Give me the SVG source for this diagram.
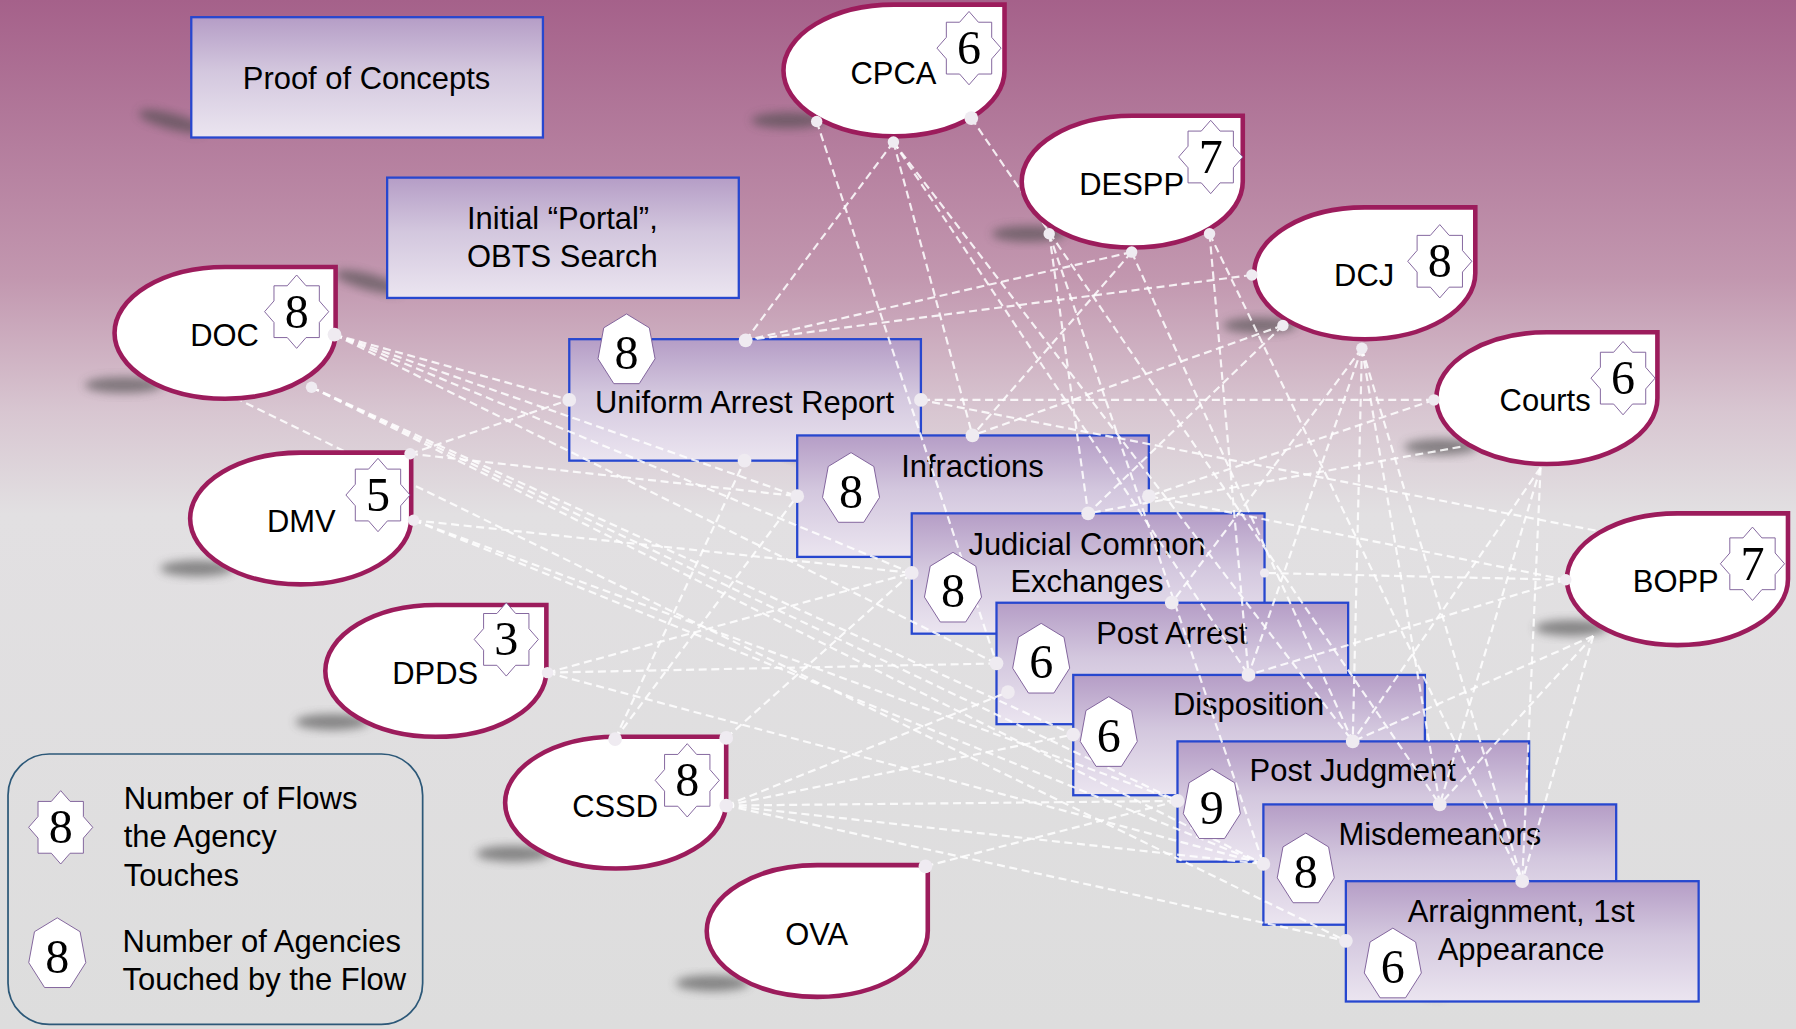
<svg xmlns="http://www.w3.org/2000/svg" xmlns:xlink="http://www.w3.org/1999/xlink" width="1796" height="1029" viewBox="0 0 1796 1029">
<defs>
<linearGradient id="bg" x1="0" y1="0" x2="0" y2="1">
<stop offset="0" stop-color="#a5618a"/>
<stop offset="0.27" stop-color="#c297af"/>
<stop offset="0.4" stop-color="#d8c6d1"/>
<stop offset="0.5" stop-color="#e2e0e2"/>
<stop offset="1" stop-color="#dddddd"/>
</linearGradient>
<linearGradient id="boxfill" x1="0" y1="0" x2="0" y2="1">
<stop offset="0" stop-color="#b59dc6"/>
<stop offset="0.45" stop-color="#d3c7de"/>
<stop offset="1" stop-color="#ebe5f0"/>
</linearGradient>
<filter id="blur" x="-50%" y="-50%" width="200%" height="200%"><feGaussianBlur stdDeviation="4"/></filter>
<path id="agency" d="M96.5,0 L193,0 L193,57.5 A96.5,57.5 0 0 1 96.5,115 A96.5,57.5 0 0 1 0,57.5 A96.5,57.5 0 0 1 96.5,0 Z"/>
<polygon id="star" points="28,0 19.8,9.4 19.8,22.6 8.2,22.6 0,32 -8.2,22.6 -19.8,22.6 -19.8,9.4 -28,0 -19.8,-9.4 -19.8,-22.6 -8.2,-22.6 0,-32 8.2,-22.6 19.8,-22.6 19.8,-9.4"/>
<polygon id="hept" points="0,-32 19.9,-19.9 24.9,7.1 11.1,28.8 -11.1,28.8 -24.9,7.1 -19.9,-19.9"/>
</defs>
<style>
.ag{fill:#ffffff;stroke:#9c1c5c;stroke-width:4}
.box{fill:url(#boxfill);stroke:#2747cf;stroke-width:2}
.sh{fill:#4a4a4a;opacity:0.6;filter:url(#blur)}
.badge{fill:#ffffff;stroke:#7a5a96;stroke-width:0.8}
.lbl{font-family:"Liberation Sans",Arial,sans-serif;font-size:27px;fill:#000;text-anchor:middle}
.lgt{font-family:"Liberation Sans",Arial,sans-serif;font-size:27px;fill:#000}
.num{font-family:"Liberation Serif","Times New Roman",serif;font-size:42px;fill:#000;text-anchor:middle}
.conn line{stroke:#ffffff;stroke-opacity:0.85;stroke-width:1.9;stroke-dasharray:7 4;fill:none}
.dot{fill:#efebf1}
</style>
<rect x="0" y="0" width="1796" height="1029" fill="url(#bg)"/>
<g transform="scale(1.14541,1.14588)">
<g id="shadows">
<ellipse class="sh" cx="150" cy="106" rx="30" ry="7" transform="rotate(15 150 106)"/>
<ellipse class="sh" cx="322" cy="246" rx="30" ry="7" transform="rotate(15 322 246)"/>
<ellipse class="sh" cx="686" cy="390" rx="28" ry="7" transform="rotate(20 686 390)"/>
<ellipse class="sh" cx="786" cy="470" rx="28" ry="7" transform="rotate(20 786 470)"/>
<ellipse class="sh" cx="860" cy="537" rx="28" ry="7" transform="rotate(20 860 537)"/>
<ellipse class="sh" cx="927" cy="616" rx="28" ry="7" transform="rotate(20 927 616)"/>
<ellipse class="sh" cx="1018" cy="678" rx="28" ry="7" transform="rotate(20 1018 678)"/>
<ellipse class="sh" cx="1093" cy="736" rx="28" ry="7" transform="rotate(20 1093 736)"/>
<ellipse class="sh" cx="1165" cy="790" rx="28" ry="7" transform="rotate(20 1165 790)"/>
<ellipse class="sh" cx="1235" cy="858" rx="28" ry="7" transform="rotate(20 1235 858)"/>
<ellipse class="sh" cx="688" cy="105" rx="32" ry="7"/>
<ellipse class="sh" cx="898" cy="204" rx="32" ry="7"/>
<ellipse class="sh" cx="1100" cy="284" rx="32" ry="7"/>
<ellipse class="sh" cx="1258" cy="390" rx="32" ry="7"/>
<ellipse class="sh" cx="1372" cy="548" rx="32" ry="7"/>
<ellipse class="sh" cx="108" cy="336" rx="34" ry="7"/>
<ellipse class="sh" cx="172" cy="496" rx="32" ry="7"/>
<ellipse class="sh" cx="290" cy="630" rx="32" ry="7"/>
<ellipse class="sh" cx="448" cy="745" rx="32" ry="7"/>
<ellipse class="sh" cx="622" cy="858" rx="32" ry="7"/>
</g>
<g id="proof-of-concepts">
<rect class="box" x="167" y="15" width="307" height="105"/>
<text class="lbl" x="320" y="78">Proof of Concepts</text>
</g>
<g id="initial-portal">
<rect class="box" x="338" y="155" width="307" height="105"/>
<text class="lbl" x="491" y="200">Initial “Portal”,</text>
<text class="lbl" x="491" y="233">OBTS Search</text>
</g>
<g id="flow-uar">
<rect class="box" x="497" y="296" width="307" height="106"/>
<text class="lbl" x="650" y="360">Uniform Arrest Report</text>
</g>
<g id="flow-infractions">
<rect class="box" x="696" y="380" width="307" height="106"/>
<text class="lbl" x="849" y="416">Infractions</text>
</g>
<g id="flow-jce">
<rect class="box" x="796" y="448" width="308" height="105"/>
<text class="lbl" x="949" y="484">Judicial Common</text>
<text class="lbl" x="949" y="517">Exchanges</text>
</g>
<g id="flow-post-arrest">
<rect class="box" x="870" y="526" width="307" height="106"/>
<text class="lbl" x="1023" y="562">Post Arrest</text>
</g>
<g id="flow-disposition">
<rect class="box" x="937" y="589" width="307" height="105"/>
<text class="lbl" x="1090" y="624">Disposition</text>
</g>
<g id="flow-post-judgment">
<rect class="box" x="1028" y="647" width="307" height="105"/>
<text class="lbl" x="1181" y="682">Post Judgment</text>
</g>
<g id="flow-misdemeanors">
<rect class="box" x="1103" y="702" width="308" height="105"/>
<text class="lbl" x="1257" y="737">Misdemeanors</text>
</g>
<g id="flow-arraignment">
<rect class="box" x="1175" y="769" width="308" height="105"/>
<text class="lbl" x="1328" y="805">Arraignment, 1st</text>
<text class="lbl" x="1328" y="838">Appearance</text>
</g>
<g id="connectors" class="conn">
<line x1="780" y1="124" x2="651" y2="297"/>
<line x1="780" y1="124" x2="849" y2="380"/>
<line x1="713" y1="106" x2="870" y2="579"/>
<line x1="780" y1="124" x2="1090" y2="589"/>
<line x1="780" y1="124" x2="1181" y2="647"/>
<line x1="848" y1="103" x2="1257" y2="702"/>
<line x1="988" y1="220" x2="651" y2="297"/>
<line x1="988" y1="220" x2="849" y2="380"/>
<line x1="916" y1="204" x2="950" y2="448"/>
<line x1="916" y1="204" x2="1103" y2="754"/>
<line x1="1056" y1="204" x2="1090" y2="589"/>
<line x1="988" y1="220" x2="1181" y2="647"/>
<line x1="1056" y1="204" x2="1329" y2="769"/>
<line x1="1093" y1="240" x2="651" y2="297"/>
<line x1="1120" y1="284" x2="849" y2="380"/>
<line x1="1120" y1="284" x2="950" y2="448"/>
<line x1="1189" y1="304" x2="1023" y2="526"/>
<line x1="1189" y1="304" x2="1090" y2="589"/>
<line x1="1189" y1="304" x2="1181" y2="647"/>
<line x1="1189" y1="304" x2="1257" y2="702"/>
<line x1="1189" y1="304" x2="1329" y2="769"/>
<line x1="1252" y1="349" x2="804" y2="349"/>
<line x1="1252" y1="349" x2="1003" y2="433"/>
<line x1="1275" y1="390" x2="950" y2="448"/>
<line x1="1345" y1="408" x2="1181" y2="647"/>
<line x1="1345" y1="408" x2="1257" y2="702"/>
<line x1="1345" y1="408" x2="1329" y2="769"/>
<line x1="1393" y1="463" x2="804" y2="349"/>
<line x1="1367" y1="506" x2="1003" y2="433"/>
<line x1="1367" y1="506" x2="1104" y2="500"/>
<line x1="1367" y1="506" x2="1090" y2="589"/>
<line x1="1391" y1="555" x2="1181" y2="647"/>
<line x1="1391" y1="555" x2="1257" y2="702"/>
<line x1="1391" y1="555" x2="1329" y2="769"/>
<line x1="292" y1="292" x2="497" y2="349"/>
<line x1="292" y1="292" x2="696" y2="433"/>
<line x1="292" y1="292" x2="796" y2="500"/>
<line x1="292" y1="292" x2="870" y2="579"/>
<line x1="272" y1="338" x2="937" y2="641"/>
<line x1="272" y1="338" x2="1028" y2="699"/>
<line x1="272" y1="338" x2="1103" y2="754"/>
<line x1="205" y1="347" x2="1175" y2="821"/>
<line x1="358" y1="396" x2="497" y2="349"/>
<line x1="358" y1="396" x2="696" y2="433"/>
<line x1="361" y1="454" x2="796" y2="500"/>
<line x1="361" y1="454" x2="1028" y2="699"/>
<line x1="361" y1="454" x2="1103" y2="754"/>
<line x1="478" y1="587" x2="796" y2="500"/>
<line x1="478" y1="587" x2="870" y2="579"/>
<line x1="478" y1="587" x2="1103" y2="754"/>
<line x1="537" y1="645" x2="650" y2="402"/>
<line x1="537" y1="645" x2="696" y2="433"/>
<line x1="634" y1="644" x2="796" y2="500"/>
<line x1="634" y1="703" x2="880" y2="604"/>
<line x1="634" y1="703" x2="937" y2="641"/>
<line x1="634" y1="703" x2="1028" y2="699"/>
<line x1="634" y1="703" x2="1103" y2="754"/>
<line x1="634" y1="703" x2="1175" y2="821"/>
<line x1="808" y1="756" x2="1028" y2="699"/>
</g>
<g id="flow-badges">
<use href="#hept" class="badge" x="547" y="306"/><text class="num" x="547" y="322">8</text>
<use href="#hept" class="badge" x="743" y="427"/><text class="num" x="743" y="443">8</text>
<use href="#hept" class="badge" x="832" y="514"/><text class="num" x="832" y="530">8</text>
<use href="#hept" class="badge" x="909" y="576"/><text class="num" x="909" y="592">6</text>
<use href="#hept" class="badge" x="968" y="640"/><text class="num" x="968" y="656">6</text>
<use href="#hept" class="badge" x="1058" y="703"/><text class="num" x="1058" y="719">9</text>
<use href="#hept" class="badge" x="1140" y="759"/><text class="num" x="1140" y="775">8</text>
<use href="#hept" class="badge" x="1216" y="842"/><text class="num" x="1216" y="858">6</text>
</g>
<g id="agency-cpca">
<use href="#agency" class="ag" x="684" y="4"/>
<text class="lbl" x="780" y="73">CPCA</text>
<use href="#star" class="badge" x="846" y="42"/><text class="num" x="846" y="56">6</text>
</g>
<g id="agency-despp">
<use href="#agency" class="ag" x="892" y="101"/>
<text class="lbl" x="988" y="170">DESPP</text>
<use href="#star" class="badge" x="1057" y="137"/><text class="num" x="1057" y="151">7</text>
</g>
<g id="agency-dcj">
<use href="#agency" class="ag" x="1095" y="181"/>
<text class="lbl" x="1191" y="250">DCJ</text>
<use href="#star" class="badge" x="1257" y="228"/><text class="num" x="1257" y="242">8</text>
</g>
<g id="agency-courts">
<use href="#agency" class="ag" x="1254" y="290"/>
<text class="lbl" x="1349" y="359">Courts</text>
<use href="#star" class="badge" x="1417" y="330"/><text class="num" x="1417" y="344">6</text>
</g>
<g id="agency-bopp">
<use href="#agency" class="ag" x="1368" y="448"/>
<text class="lbl" x="1463" y="517">BOPP</text>
<use href="#star" class="badge" x="1530" y="492"/><text class="num" x="1530" y="506">7</text>
</g>
<g id="agency-doc">
<use href="#agency" class="ag" x="100" y="233"/>
<text class="lbl" x="196" y="302">DOC</text>
<use href="#star" class="badge" x="259" y="272"/><text class="num" x="259" y="286">8</text>
</g>
<g id="agency-dmv">
<use href="#agency" class="ag" x="166" y="395"/>
<text class="lbl" x="263" y="464">DMV</text>
<use href="#star" class="badge" x="330" y="432"/><text class="num" x="330" y="446">5</text>
</g>
<g id="agency-dpds">
<use href="#agency" class="ag" x="284" y="528"/>
<text class="lbl" x="380" y="597">DPDS</text>
<use href="#star" class="badge" x="442" y="558"/><text class="num" x="442" y="572">3</text>
</g>
<g id="agency-cssd">
<use href="#agency" class="ag" x="441" y="643"/>
<text class="lbl" x="537" y="713">CSSD</text>
<use href="#star" class="badge" x="600" y="681"/><text class="num" x="600" y="695">8</text>
</g>
<g id="agency-ova">
<use href="#agency" class="ag" x="617" y="755"/>
<text class="lbl" x="713" y="825">OVA</text>
</g>
<g id="ports">
<circle class="dot" cx="651" cy="297" r="6"/><circle class="dot" cx="497" cy="349" r="6"/><circle class="dot" cx="804" cy="349" r="6"/><circle class="dot" cx="650" cy="402" r="6"/>
<circle class="dot" cx="849" cy="380" r="6"/><circle class="dot" cx="696" cy="433" r="6"/><circle class="dot" cx="1003" cy="433" r="6"/>
<circle class="dot" cx="950" cy="448" r="6"/><circle class="dot" cx="796" cy="500" r="6"/><circle class="dot" cx="1104" cy="500" r="4"/>
<circle class="dot" cx="1023" cy="526" r="6"/><circle class="dot" cx="870" cy="579" r="6"/><circle class="dot" cx="880" cy="604" r="6"/>
<circle class="dot" cx="1090" cy="589" r="6"/><circle class="dot" cx="937" cy="641" r="6"/>
<circle class="dot" cx="1181" cy="647" r="6"/><circle class="dot" cx="1028" cy="699" r="6"/>
<circle class="dot" cx="1257" cy="702" r="6"/><circle class="dot" cx="1103" cy="754" r="6"/>
<circle class="dot" cx="1329" cy="769" r="6"/><circle class="dot" cx="1175" cy="821" r="6"/>
<circle class="dot" cx="713" cy="106" r="5"/><circle class="dot" cx="780" cy="124" r="5"/><circle class="dot" cx="848" cy="103" r="6"/>
<circle class="dot" cx="916" cy="204" r="5"/><circle class="dot" cx="988" cy="220" r="5"/><circle class="dot" cx="1056" cy="204" r="5"/>
<circle class="dot" cx="1093" cy="240" r="5"/><circle class="dot" cx="1120" cy="284" r="5"/><circle class="dot" cx="1189" cy="304" r="5"/>
<circle class="dot" cx="1252" cy="349" r="5"/><circle class="dot" cx="1367" cy="506" r="5"/>
<circle class="dot" cx="292" cy="292" r="6"/><circle class="dot" cx="272" cy="338" r="5"/>
<circle class="dot" cx="358" cy="396" r="5"/><circle class="dot" cx="361" cy="454" r="5"/>
<circle class="dot" cx="478" cy="587" r="5"/>
<circle class="dot" cx="537" cy="645" r="6"/><circle class="dot" cx="634" cy="644" r="6"/><circle class="dot" cx="634" cy="703" r="6"/>
<circle class="dot" cx="808" cy="756" r="6"/>
</g>
<g id="legend">
<rect x="7" y="658" width="362" height="236" rx="36" ry="36" fill="none" stroke="#2c5878" stroke-width="1.5"/>
<use href="#star" class="badge" x="53" y="722"/><text class="num" x="53" y="736">8</text>
<text class="lgt" x="108" y="706">Number of Flows</text>
<text class="lgt" x="108" y="739">the Agency</text>
<text class="lgt" x="108" y="773">Touches</text>
<use href="#hept" class="badge" x="50" y="833"/><text class="num" x="50" y="849">8</text>
<text class="lgt" x="107" y="831">Number of Agencies</text>
<text class="lgt" x="107" y="864">Touched by the Flow</text>
</g>
</g>
</svg>
